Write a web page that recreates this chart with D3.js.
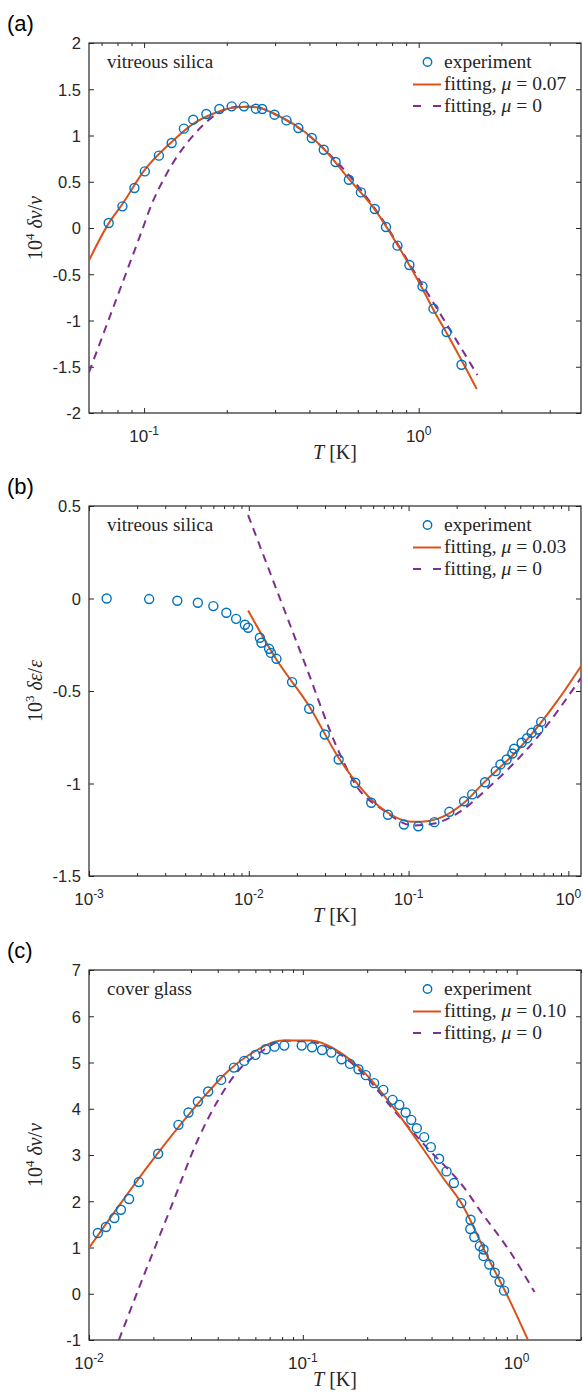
<!DOCTYPE html>
<html>
<head>
<meta charset="utf-8">
<script src="https://cdn.jsdelivr.net/npm/d3@7"></script>
<style>
  body { margin: 0; background: #fff; }
  svg { display: block; }
  .tick-label { font-family: "Liberation Sans", Arial, Helvetica, sans-serif; fill: #262626; }
  .serif { font-family: "Liberation Serif", "Times New Roman", serif; fill: #262626; }
</style>
</head>
<body>
<svg id="chart" width="583" height="1393"></svg>
<script>
// ---- panel (a): vitreous silica, sound velocity
const aExpT = [0.0743, 0.0834, 0.0922, 0.1006, 0.1132, 0.126, 0.1396, 0.151, 0.1685, 0.188, 0.2084, 0.231, 0.2553, 0.2692, 0.2985, 0.330, 0.3645, 0.408, 0.451, 0.498, 0.557, 0.616, 0.692, 0.760, 0.837, 0.925, 1.032, 1.132, 1.264, 1.432];
const aExpV = [0.054, 0.234, 0.432, 0.612, 0.782, 0.919, 1.074, 1.171, 1.232, 1.286, 1.315, 1.315, 1.29, 1.286, 1.225, 1.163, 1.081, 0.973, 0.846, 0.714, 0.522, 0.385, 0.205, 0.011, -0.191, -0.40, -0.631, -0.872, -1.124, -1.478];
const aFitT = [0.063, 0.0743, 0.0834, 0.1, 0.126, 0.15, 0.18, 0.21, 0.24, 0.27, 0.3, 0.36, 0.45, 0.55, 0.7, 0.84, 1.0, 1.13, 1.3, 1.627];
const aFitV = [-0.35, 0.05, 0.26, 0.62, 0.93, 1.12, 1.24, 1.30, 1.31, 1.29, 1.23, 1.10, 0.86, 0.55, 0.18, -0.19, -0.58, -0.88, -1.2, -1.74];
const aFit0T = [0.063, 0.0791, 0.0975, 0.107, 0.118, 0.133, 0.15, 0.165, 0.19, 0.22, 0.25, 0.3, 0.45, 0.7, 1.0, 1.3, 1.636];
const aFit0V = [-1.56, -0.775, -0.054, 0.27, 0.53, 0.79, 0.99, 1.12, 1.26, 1.31, 1.31, 1.23, 0.86, 0.19, -0.55, -1.1, -1.59];
const aYTicks = [-2, -1.5, -1, -0.5, 0, 0.5, 1, 1.5, 2];
const aXMajor = [0.1, 1];
const aXExp = ["-1", "0"];

// ---- panel (b): vitreous silica, dielectric constant
const bExpT = [0.00129, 0.00238, 0.00357, 0.0048, 0.0060, 0.00724, 0.00833, 0.00946, 0.0099, 0.01173, 0.0120, 0.0134, 0.01376, 0.0149, 0.01866, 0.02388, 0.0299, 0.0365, 0.0464, 0.0584, 0.0743, 0.0935, 0.115, 0.145, 0.180, 0.2225, 0.25, 0.301, 0.351, 0.376, 0.411, 0.446, 0.458, 0.51, 0.552, 0.589, 0.648, 0.676];
const bExpV = [0, -0.003, -0.012, -0.023, -0.041, -0.077, -0.11, -0.142, -0.158, -0.212, -0.239, -0.272, -0.294, -0.326, -0.452, -0.596, -0.735, -0.870, -0.996, -1.104, -1.169, -1.222, -1.231, -1.209, -1.153, -1.096, -1.059, -0.993, -0.933, -0.897, -0.870, -0.838, -0.812, -0.780, -0.755, -0.726, -0.708, -0.667];
const bFitT = [0.0099, 0.0149, 0.0239, 0.0365, 0.0464, 0.0584, 0.0743, 0.1, 0.12, 0.153, 0.2225, 0.3, 0.4975, 0.851, 1.2];
const bFitV = [-0.065, -0.33, -0.582, -0.861, -0.987, -1.086, -1.158, -1.205, -1.207, -1.19, -1.104, -0.99, -0.807, -0.555, -0.366];
const bFit0T = [0.0099, 0.0223, 0.037, 0.0472, 0.0686, 0.108, 0.145, 0.2225, 0.2915, 0.649, 1.2];
const bFit0V = [0.451, -0.345, -0.837, -1.014, -1.14, -1.227, -1.216, -1.137, -1.05, -0.744, -0.429];
const bYTicks = [-1.5, -1, -0.5, 0, 0.5];
const bXMajor = [0.001, 0.01, 0.1, 1];
const bXExp = ["-3", "-2", "-1", "0"];

// ---- panel (c): cover glass, sound velocity
const cExpT = [0.0110, 0.0120, 0.01314, 0.0141, 0.0154, 0.0171, 0.02105, 0.0262, 0.0292, 0.0323, 0.0361, 0.0415, 0.0476, 0.0532, 0.060, 0.0671, 0.0738, 0.0819, 0.0988, 0.1105, 0.123, 0.136, 0.1516, 0.1663, 0.182, 0.197, 0.2155, 0.238, 0.263, 0.2827, 0.3027, 0.3214, 0.3413, 0.3696, 0.397, 0.4337, 0.47, 0.509, 0.551, 0.609, 0.607, 0.634, 0.673, 0.70, 0.70, 0.745, 0.79, 0.832, 0.873];
const cExpV = [1.313, 1.443, 1.637, 1.816, 2.048, 2.415, 3.026, 3.652, 3.918, 4.156, 4.372, 4.624, 4.89, 5.035, 5.164, 5.287, 5.343, 5.365, 5.365, 5.33, 5.27, 5.214, 5.071, 4.97, 4.855, 4.726, 4.553, 4.408, 4.192, 4.084, 3.918, 3.76, 3.58, 3.387, 3.17, 2.92, 2.645, 2.393, 1.96, 1.6, 1.40, 1.227, 1.03, 0.957, 0.813, 0.633, 0.453, 0.259, 0.067];
const cFitT = [0.01, 0.021, 0.0357, 0.0445, 0.0576, 0.0809, 0.109, 0.1474, 0.195, 0.263, 0.341, 0.4605, 0.551, 0.729, 0.924, 1.13];
const cFitV = [0.99, 3.04, 4.337, 4.804, 5.2, 5.473, 5.473, 5.235, 4.77, 4.05, 3.33, 2.46, 1.96, 0.81, -0.128, -1.0];
const cFit0T = [0.0138, 0.0181, 0.0239, 0.0323, 0.0403, 0.0512, 0.0624, 0.0809, 0.109, 0.1474, 0.195, 0.263, 0.377, 0.562, 0.6866, 0.947, 1.212];
const cFit0V = [-1, 0.41, 1.81, 3.33, 4.2, 4.88, 5.2, 5.47, 5.45, 5.2, 4.72, 4.0, 3.18, 2.32, 1.75, 0.86, 0.036];
const cYTicks = [-1, 0, 1, 2, 3, 4, 5, 6, 7];
const cXMajor = [0.01, 0.1, 1];
const cXExp = ["-2", "-1", "0"];

const colors = { exp: "#0072BD", fit: "#D95319", fit0: "#7E2F8E", axis: "#262626" };

var dimensions = { left: 89, right: 581 };

const panels = [
    { id: "a", tag: "(a)", top: 43, bottom: 413, xDomain: [0.063, 3.9], yDomain: [-2, 2],
      yTicks: aYTicks, xMajor: aXMajor, xExp: aXExp, sample: "vitreous silica", mu: "0.07",
      yPow: "4", ySym: "ν",
      exp: aExpT.map((t, i) => [t, aExpV[i]]),
      fit: aFitT.map((t, i) => [t, aFitV[i]]),
      fit0: aFit0T.map((t, i) => [t, aFit0V[i]]) },
    { id: "b", tag: "(b)", top: 506, bottom: 876, xDomain: [0.001, 1.2], yDomain: [-1.5, 0.5],
      yTicks: bYTicks, xMajor: bXMajor, xExp: bXExp, sample: "vitreous silica", mu: "0.03",
      yPow: "3", ySym: "ε",
      exp: bExpT.map((t, i) => [t, bExpV[i]]),
      fit: bFitT.map((t, i) => [t, bFitV[i]]),
      fit0: bFit0T.map((t, i) => [t, bFit0V[i]]) },
    { id: "c", tag: "(c)", top: 970, bottom: 1340, xDomain: [0.01, 2], yDomain: [-1, 7],
      yTicks: cYTicks, xMajor: cXMajor, xExp: cXExp, sample: "cover glass", mu: "0.10",
      yPow: "4", ySym: "ν",
      exp: cExpT.map((t, i) => [t, cExpV[i]]),
      fit: cFitT.map((t, i) => [t, cFitV[i]]),
      fit0: cFit0T.map((t, i) => [t, cFit0V[i]]) }
];

var svg = d3.select("#chart");

function isDecade(t) {
    const l = Math.log10(t);
    return Math.abs(l - Math.round(l)) < 1e-6;
}

function drawPanel(p) {
    var g = svg.append("g");

    var xScale = d3.scaleLog().domain(p.xDomain).range([dimensions.left, dimensions.right]);
    var yScale = d3.scaleLinear().domain(p.yDomain).range([p.bottom, p.top]);

    // clip region for the curves
    svg.append("clipPath").attr("id", "clip-" + p.id)
        .append("rect")
        .attr("x", dimensions.left).attr("y", p.top)
        .attr("width", dimensions.right - dimensions.left)
        .attr("height", p.bottom - p.top);

    var minor = xScale.ticks().filter(t => !isDecade(t));

    // inward ticks on all four sides
    function styleAxis(sel) {
        sel.select(".domain").remove();
        sel.selectAll("line").attr("stroke", colors.axis).attr("stroke-width", 1);
    }
    g.append("g").attr("transform", `translate(0,${p.bottom})`)
        .call(d3.axisBottom(xScale).tickValues(p.xMajor).tickSize(-5).tickFormat(""))
        .call(styleAxis);
    g.append("g").attr("transform", `translate(0,${p.bottom})`)
        .call(d3.axisBottom(xScale).tickValues(minor).tickSize(-3).tickFormat(""))
        .call(styleAxis);
    g.append("g").attr("transform", `translate(0,${p.top})`)
        .call(d3.axisTop(xScale).tickValues(p.xMajor).tickSize(-5).tickFormat(""))
        .call(styleAxis);
    g.append("g").attr("transform", `translate(0,${p.top})`)
        .call(d3.axisTop(xScale).tickValues(minor).tickSize(-3).tickFormat(""))
        .call(styleAxis);
    g.append("g").attr("transform", `translate(${dimensions.left},0)`)
        .call(d3.axisLeft(yScale).tickValues(p.yTicks).tickSize(-5).tickPadding(8).tickFormat(d => String(d)))
        .call(styleAxis)
        .selectAll("text")
        .attr("class", "tick-label")
        .attr("dy", "0.36em")
        .style("font-size", "16.5px")
        .style("font-family", null)
        .attr("fill", colors.axis);
    g.append("g").attr("transform", `translate(${dimensions.right},0)`)
        .call(d3.axisRight(yScale).tickValues(p.yTicks).tickSize(-5).tickFormat(""))
        .call(styleAxis);

    // box
    g.append("rect")
        .attr("x", dimensions.left).attr("y", p.top)
        .attr("width", dimensions.right - dimensions.left)
        .attr("height", p.bottom - p.top)
        .attr("fill", "none")
        .attr("stroke", colors.axis)
        .attr("stroke-width", 1.2);

    // x tick labels as 10^n
    p.xMajor.forEach((v, i) => {
        var t = g.append("text")
            .attr("class", "tick-label")
            .attr("x", xScale(v))
            .attr("y", p.bottom + 29)
            .attr("text-anchor", "middle")
            .style("font-size", "17px");
        t.append("tspan").text("10");
        t.append("tspan").attr("dy", -7).style("font-size", "12px").text(p.xExp[i]);
    });

    // axis labels
    var xl = g.append("text")
        .attr("class", "serif")
        .attr("x", (dimensions.left + dimensions.right) / 2)
        .attr("y", p.bottom + 46)
        .attr("text-anchor", "middle")
        .style("font-size", "20px");
    xl.append("tspan").style("font-style", "italic").text("T");
    xl.append("tspan").text(" [K]");

    var yl = g.append("text")
        .attr("class", "serif")
        .attr("transform", `translate(42,${(p.top + p.bottom) / 2}) rotate(-90)`)
        .attr("text-anchor", "middle")
        .style("font-size", "20px");
    yl.append("tspan").text("10");
    yl.append("tspan").attr("dy", -8).style("font-size", "13px").text(p.yPow);
    yl.append("tspan").attr("dy", 8).text(" ");
    yl.append("tspan").style("font-style", "italic").text("δ" + p.ySym);
    yl.append("tspan").text("/");
    yl.append("tspan").style("font-style", "italic").text(p.ySym);

    // panel tag and sample name
    g.append("text")
        .attr("x", 7).attr("y", p.top - 12)
        .style("font-family", "'Liberation Sans', Arial, sans-serif")
        .style("font-size", "22px")
        .attr("fill", "#000")
        .text(p.tag);
    g.append("text")
        .attr("class", "serif")
        .attr("x", 107).attr("y", p.top + 25)
        .style("font-size", "19px")
        .text(p.sample);

    // curves
    var line = d3.line()
        .x(d => xScale(d[0]))
        .y(d => yScale(d[1]))
        .curve(d3.curveMonotoneX);

    var plot = g.append("g").attr("clip-path", `url(#clip-${p.id})`);
    plot.append("path")
        .datum(p.fit0)
        .attr("d", line)
        .attr("fill", "none")
        .attr("stroke", colors.fit0)
        .attr("stroke-width", 2)
        .attr("stroke-dasharray", "8,6");
    plot.append("path")
        .datum(p.fit)
        .attr("d", line)
        .attr("fill", "none")
        .attr("stroke", colors.fit)
        .attr("stroke-width", 2);
    plot.selectAll("circle")
        .data(p.exp)
        .enter()
        .append("circle")
        .attr("cx", d => xScale(d[0]))
        .attr("cy", d => yScale(d[1]))
        .attr("r", 4.5)
        .attr("fill", "none")
        .attr("stroke", colors.exp)
        .attr("stroke-width", 1.4);

    // legend
    var ly = p.top + 19;
    var leg = g.append("g");
    leg.append("circle")
        .attr("cx", 427.5).attr("cy", ly).attr("r", 4.2)
        .attr("fill", "none").attr("stroke", colors.exp).attr("stroke-width", 1.4);
    leg.append("line")
        .attr("x1", 413).attr("x2", 441).attr("y1", ly + 22.5).attr("y2", ly + 22.5)
        .attr("stroke", colors.fit).attr("stroke-width", 2);
    leg.append("line")
        .attr("x1", 413).attr("x2", 441).attr("y1", ly + 44).attr("y2", ly + 44)
        .attr("stroke", colors.fit0).attr("stroke-width", 2)
        .attr("stroke-dasharray", "8,12");
    var labels = [["experiment", null], ["fitting, ", p.mu], ["fitting, ", "0"]];
    labels.forEach((lab, i) => {
        var t = leg.append("text")
            .attr("class", "serif")
            .attr("x", 444)
            .attr("y", ly + 5.5 + i * 22)
            .style("font-size", "19.5px");
        t.append("tspan").text(lab[0]);
        if (lab[1] !== null) {
            t.append("tspan").style("font-style", "italic").text("μ");
            t.append("tspan").attr("dx", 5).text("=");
            t.append("tspan").attr("dx", 5).text(lab[1]);
        }
    });
}

panels.forEach(drawPanel);
</script>
</body>
</html>
